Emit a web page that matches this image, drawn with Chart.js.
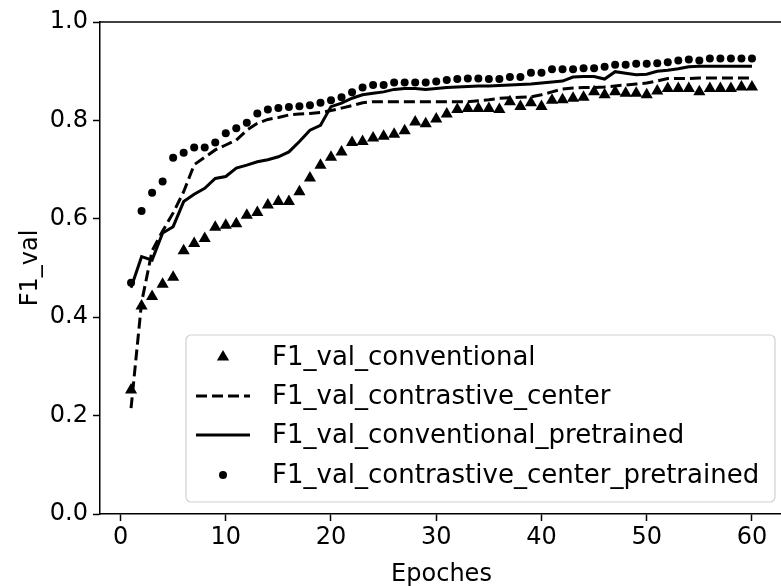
<!DOCTYPE html>
<html>
<head>
<meta charset="utf-8">
<script src="https://cdn.jsdelivr.net/npm/chart.js@4.4.1/dist/chart.umd.min.js"></script>
<style>
  html, body { margin: 0; padding: 0; background: #fff; overflow: hidden; width: 781px; height: 586px; }
  canvas { display: block; }
</style>
</head>
<body>
<canvas id="c" width="790" height="586" style="width:790px;height:586px"></canvas>
<script>
const epochs = Array.from({length: 60}, (_, i) => i + 1);

const f1Conventional = [
  0.252, 0.423, 0.442, 0.467, 0.481, 0.535, 0.550, 0.560, 0.583, 0.587,
  0.590, 0.607, 0.613, 0.628, 0.635, 0.635, 0.655, 0.683, 0.709, 0.725,
  0.736, 0.755, 0.757, 0.764, 0.768, 0.772, 0.779, 0.797, 0.793, 0.803,
  0.813, 0.822, 0.824, 0.824, 0.824, 0.822, 0.838, 0.828, 0.836, 0.828,
  0.841, 0.842, 0.845, 0.847, 0.858, 0.852, 0.858, 0.855, 0.855, 0.852,
  0.860, 0.865, 0.865, 0.865, 0.858, 0.865, 0.865, 0.865, 0.868, 0.868
];
const f1ContrastiveCenter = [
  0.215, 0.430, 0.535, 0.575, 0.612, 0.655, 0.710, 0.725, 0.740, 0.750,
  0.760, 0.780, 0.794, 0.802, 0.806, 0.811, 0.813, 0.814, 0.816, 0.820,
  0.825, 0.830, 0.836, 0.838, 0.838, 0.838, 0.838, 0.838, 0.838, 0.838,
  0.838, 0.838, 0.838, 0.840, 0.842, 0.845, 0.846, 0.847, 0.848, 0.852,
  0.858, 0.864, 0.866, 0.867, 0.867, 0.868, 0.870, 0.872, 0.874, 0.876,
  0.880, 0.885, 0.885, 0.885, 0.886, 0.886, 0.886, 0.886, 0.886, 0.886
];
const f1ConventionalPretrained = [
  0.460, 0.523, 0.516, 0.571, 0.584, 0.635, 0.650, 0.662, 0.682, 0.686,
  0.703, 0.709, 0.716, 0.720, 0.726, 0.736, 0.757, 0.780, 0.790, 0.828,
  0.835, 0.845, 0.852, 0.855, 0.858, 0.863, 0.865, 0.865, 0.863, 0.865,
  0.867, 0.868, 0.869, 0.870, 0.870, 0.871, 0.872, 0.873, 0.874, 0.876,
  0.878, 0.880, 0.888, 0.889, 0.889, 0.884, 0.899, 0.896, 0.893, 0.894,
  0.900, 0.902, 0.905, 0.909, 0.910, 0.910, 0.910, 0.910, 0.910, 0.910
];
const f1ContrastiveCenterPretrained = [
  0.470, 0.616, 0.653, 0.676, 0.724, 0.734, 0.745, 0.745, 0.755, 0.774,
  0.784, 0.795, 0.814, 0.822, 0.825, 0.827, 0.829, 0.831, 0.836, 0.841,
  0.847, 0.857, 0.867, 0.872, 0.872, 0.877, 0.877, 0.877, 0.877, 0.879,
  0.882, 0.884, 0.885, 0.885, 0.884, 0.884, 0.888, 0.888, 0.897, 0.897,
  0.904, 0.904, 0.904, 0.906, 0.906, 0.909, 0.913, 0.913, 0.915, 0.915,
  0.916, 0.918, 0.922, 0.924, 0.922, 0.926, 0.926, 0.926, 0.926, 0.926
];

const seriesNames = [
  'F1_val_conventional',
  'F1_val_contrastive_center',
  'F1_val_conventional_pretrained',
  'F1_val_contrastive_center_pretrained'
];
const xTicks = [0, 10, 20, 30, 40, 50, 60];
const yTicks = [0.0, 0.2, 0.4, 0.6, 0.8, 1.0];
const xLabel = 'Epoches';
const yLabel = 'F1_val';

const FONT = 'DejaVu Sans';
const pts = arr => epochs.map((e, i) => ({x: e, y: arr[i]}));

const legendPlugin = {
  id: 'mplLegend',
  afterDraw(chart) {
    const ctx = chart.ctx;
    const ca = chart.chartArea;
    ctx.save();
    // top spine
    ctx.strokeStyle = '#000';
    ctx.lineWidth = 1.5;
    ctx.beginPath();
    ctx.moveTo(ca.left - 0.75, ca.top);
    ctx.lineTo(ca.right, ca.top);
    ctx.stroke();
    // legend box
    const bx = 186, by = 335, bw = 589, bh = 167, r = 5;
    ctx.beginPath();
    ctx.moveTo(bx + r, by);
    ctx.arcTo(bx + bw, by, bx + bw, by + bh, r);
    ctx.arcTo(bx + bw, by + bh, bx, by + bh, r);
    ctx.arcTo(bx, by + bh, bx, by, r);
    ctx.arcTo(bx, by, bx + bw, by, r);
    ctx.closePath();
    ctx.fillStyle = 'rgba(255,255,255,0.8)';
    ctx.fill();
    ctx.strokeStyle = '#d0d0d0';
    ctx.lineWidth = 1.2;
    ctx.stroke();
    const rows = [357, 396, 435, 475];
    const mx = 223, lx0 = 196, lx1 = 250, tx = 272;
    ctx.fillStyle = '#000';
    ctx.strokeStyle = '#000';
    // triangle
    ctx.beginPath();
    ctx.moveTo(mx, rows[0] - 7);
    ctx.lineTo(mx + 6.1, rows[0] + 3.5);
    ctx.lineTo(mx - 6.1, rows[0] + 3.5);
    ctx.closePath();
    ctx.fill();
    // dashed
    ctx.lineWidth = 3;
    ctx.setLineDash([11, 5]);
    ctx.beginPath(); ctx.moveTo(lx0, rows[1]); ctx.lineTo(lx1, rows[1]); ctx.stroke();
    ctx.setLineDash([]);
    ctx.beginPath(); ctx.moveTo(lx0, rows[2]); ctx.lineTo(lx1, rows[2]); ctx.stroke();
    ctx.beginPath(); ctx.arc(mx, rows[3], 4, 0, Math.PI * 2); ctx.fill();
    ctx.font = '26px "' + FONT + '"';
    ctx.textBaseline = 'middle';
    ctx.textAlign = 'left';
    seriesNames.forEach((n, i) => ctx.fillText(n, tx, rows[i] + 1));
    ctx.restore();
  }
};

new Chart(document.getElementById('c'), {
  type: 'scatter',
  data: {
    datasets: [
      { label: seriesNames[0], data: pts(f1Conventional), showLine: false,
        pointStyle: 'triangle', pointRadius: 7, pointBackgroundColor: '#000', pointBorderWidth: 0, borderColor: '#000' },
      { label: seriesNames[1], data: pts(f1ContrastiveCenter), showLine: true,
        borderColor: '#000', borderWidth: 3, borderDash: [11, 5], pointRadius: 0, tension: 0 },
      { label: seriesNames[2], data: pts(f1ConventionalPretrained), showLine: true,
        borderColor: '#000', borderWidth: 3, pointRadius: 0, tension: 0 },
      { label: seriesNames[3], data: pts(f1ContrastiveCenterPretrained), showLine: false,
        pointStyle: 'circle', pointRadius: 4, pointBackgroundColor: '#000', pointBorderWidth: 0, borderColor: '#000' }
    ]
  },
  options: {
    responsive: false,
    animation: false,
    devicePixelRatio: 1,
    layout: { padding: { top: 22, right: 2, left: 0, bottom: 0 } },
    plugins: { legend: { display: false }, tooltip: { enabled: false } },
    scales: {
      x: {
        type: 'linear', min: -1.95, max: 62.95,
        afterFit(s) { s.height = 72; },
        afterBuildTicks(s) { s.ticks = xTicks.map(v => ({value: v})); },
        border: { display: true, color: '#000', width: 1.5 },
        grid: { display: true, drawOnChartArea: false, drawTicks: true, tickLength: 7, tickColor: '#000', tickWidth: 1.5 },
        ticks: { color: '#000', padding: 2, maxRotation: 0, font: { family: FONT, size: 24 }, callback: v => String(v) },
        title: { display: true, text: xLabel, color: '#000', font: { family: FONT, size: 24 }, padding: { top: 0, bottom: -3 } }
      },
      y: {
        min: 0, max: 1,
        afterFit(s) { s.width = 100; },
        afterBuildTicks(s) { s.ticks = yTicks.map(v => ({value: v})); },
        border: { display: true, color: '#000', width: 1.5 },
        grid: { display: true, drawOnChartArea: false, drawTicks: true, tickLength: 7, tickColor: '#000', tickWidth: 1.5 },
        ticks: { color: '#000', padding: 5, font: { family: FONT, size: 24 }, callback: v => Number(v).toFixed(1) },
        title: { display: true, text: yLabel, color: '#000', font: { family: FONT, size: 24 }, padding: { top: 16, bottom: 0 } }
      }
    }
  },
  plugins: [legendPlugin]
});
</script>
</body>
</html>
